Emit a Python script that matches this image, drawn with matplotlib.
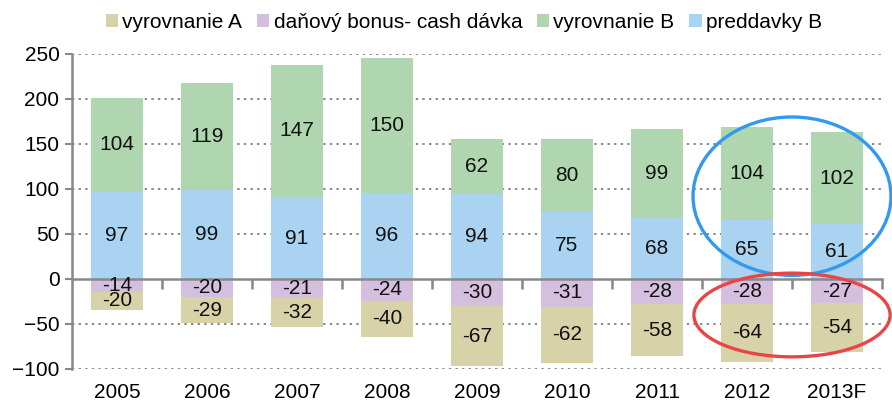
import numpy as np
import matplotlib.pyplot as plt
from matplotlib.patches import Ellipse
from matplotlib.transforms import blended_transform_factory

plt.rcParams['font.family'] = ['Liberation Sans', 'DejaVu Sans']

# data
years = ['2005', '2006', '2007', '2008', '2009', '2010', '2011', '2012', '2013F']
preddavky_b = [97, 99, 91, 96, 94, 75, 68, 65, 61]
vyrovnanie_b = [104, 119, 147, 150, 62, 80, 99, 104, 102]
bonus = [-14, -20, -21, -24, -30, -31, -28, -28, -27]
vyrovnanie_a = [-20, -29, -32, -40, -67, -62, -58, -64, -54]

c_a = '#d8d2a9'
c_bonus = '#d5bfdf'
c_b = '#b0d6b0'
c_pred = '#aad3f1'

fig = plt.figure(figsize=(8.92, 4.05), dpi=100)
ax = fig.add_axes([0.0807, 0.0889, 0.9081, 0.7778])

x = np.arange(len(years))
w = 0.58
pred = np.array(preddavky_b)
bon = np.array(bonus)

b_pred = ax.bar(x, pred, w, color=c_pred, zorder=2)
b_vb = ax.bar(x, vyrovnanie_b, w, bottom=pred, color=c_b, zorder=2)
b_bon = ax.bar(x, bon, w, color=c_bonus, zorder=2)
b_va = ax.bar(x, vyrovnanie_a, w, bottom=bon, color=c_a, zorder=2)

fs = 15
for bars in (b_pred, b_vb, b_bon, b_va):
    ax.bar_label(bars, labels=[str(int(round(b.get_height()))) for b in bars],
                 label_type='center', fontsize=fs, color='#111111', zorder=4)

ax.set_xlim(-0.5, len(years) - 0.5)
ax.set_ylim(-100, 250)
ax.set_yticks(np.arange(-100, 251, 50))
ax.tick_params(axis='y', labelsize=fs, length=5, width=1.5, color='#888888', pad=4)

# gridlines
for yv in ax.get_yticks():
    if yv != 0:
        ax.axhline(yv, color='#888888', lw=1.4, ls=(0, (1.2, 2.2)), zorder=1)

# spines
for s in ['top', 'right']:
    ax.spines[s].set_visible(False)
ax.spines['left'].set_color('#888888')
ax.spines['left'].set_linewidth(1.8)
ax.spines['bottom'].set_position(('data', 0))
ax.spines['bottom'].set_color('#888888')
ax.spines['bottom'].set_linewidth(1.8)
ax.spines['bottom'].set_zorder(3)
ax.set_xticks(np.arange(0.5, len(years) - 0.5, 1.0))
ax.set_xticks([len(years) - 0.5], minor=True)
ax.tick_params(axis='x', which='both', length=7, width=1.8, color='#888888',
               direction='out', labelbottom=False)

trans = blended_transform_factory(ax.transData, ax.transAxes)
for i, yr in enumerate(years):
    ax.text(x[i], -0.075, yr, transform=trans, ha='center', va='center', fontsize=fs)

# legend
handles = [b_va, b_bon, b_vb, b_pred]
labels = ['vyrovnanie A', 'daňový bonus- cash dávka', 'vyrovnanie B', 'preddavky B']
fig.legend(handles, labels, loc='center', bbox_to_anchor=(0.52, 0.945), ncol=4,
           frameon=False, fontsize=fs, handlelength=0.6, handleheight=0.6,
           handletextpad=0.2, columnspacing=0.7)

# highlight ellipses
ax.add_patch(Ellipse((7.5, 92), 2.2, 176, fill=False, ec='#3399ee', lw=2.4,
                     clip_on=False, zorder=5))
ax.add_patch(Ellipse((7.5, -40), 2.18, 93, fill=False, ec='#e84545', lw=2.4,
                     clip_on=False, zorder=5))

fig.savefig('out.png', dpi=100)
